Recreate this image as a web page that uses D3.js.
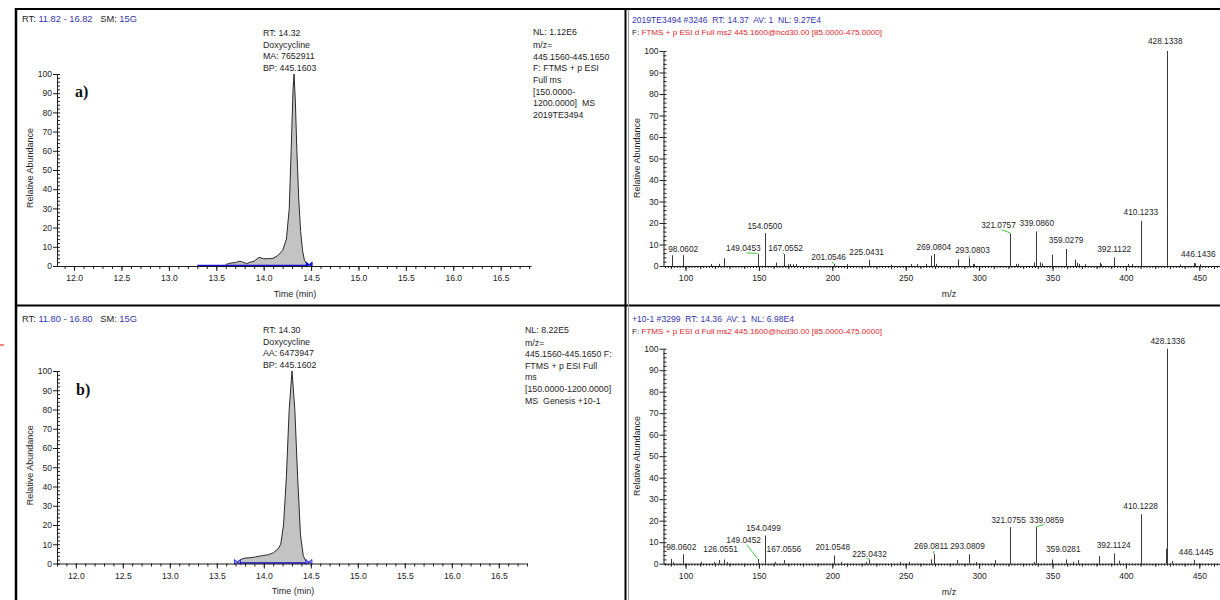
<!DOCTYPE html>
<html><head><meta charset="utf-8">
<script src="https://cdn.jsdelivr.net/npm/d3@7/dist/d3.min.js"></script>
<style>
body{margin:0;background:#fff;}
svg{display:block;font-family:"Liberation Sans",Arial,sans-serif;}
</style></head><body>
<svg id="c" width="1220" height="600"></svg>
<script>
// ---------------- DATA ----------------
// Chromatogram a)
const chromA_time  = [13.60,13.65,13.70,13.75,13.78,13.82,13.86,13.90,13.95,14.00,14.05,14.10,14.15,14.20,14.24,14.27,14.29,14.31,14.32,14.335,14.35,14.37,14.39,14.41,14.43,14.46,14.48];
const chromA_abund = [0.8, 1.5, 1.8, 2.5, 2.0, 1.2, 2.0, 2.5, 4.5, 3.8, 3.8, 4.0, 5.5, 8.0, 14, 30, 60, 92, 100, 85, 60, 35, 18, 8, 3, 1, 0];
// Chromatogram b)
const chromB_time  = [13.72,13.76,13.80,13.85,13.90,13.95,14.00,14.05,14.10,14.15,14.18,14.21,14.24,14.27,14.30,14.33,14.36,14.39,14.42,14.45,14.48];
const chromB_abund = [0.8, 2.2, 2.8, 3.0, 3.3, 3.8, 4.2, 4.6, 5.5, 7.5, 10, 20, 45, 80, 100, 80, 45, 15, 4, 1, 0];

// Spectrum (top, 2019TE3494)
const specA_mz  = [91.05,98.06,117.5,122.5,126.1,149.05,154.05,161.8,167.06,169.5,171,173,175,201.05,210,225.04,239.7,253.3,258,263.8,267.4,269.08,270.8,285.4,293.08,295.5,296.5,321.08,325.4,326.6,337.7,339.09,341.6,343,349.9,359.03,365.5,366.5,367.8,371.8,382.2,383,392.11,401.6,404.2,410.12,428.13,437,446.14,447,450.5];
const specA_int = [5.0,5.0,0.9,1.0,3.6,5.7,15.3,1.6,5.5,0.8,1.0,0.8,0.9,1.0,0.9,2.9,0.6,0.9,0.9,1.0,4.8,5.6,1.0,3.1,3.8,0.9,0.9,15.2,1.0,1.0,1.7,16.1,1.7,1.2,5.2,7.9,3.0,1.5,1.0,0.8,1.5,0.8,4.0,0.9,0.9,21,100,0.7,1.4,1.2,0.8];
const specA_labelText  = ['98.0602','149.0453','154.0500','167.0552','201.0546','225.0431','269.0804','293.0803','321.0757','339.0860','359.0279','392.1122','410.1233','428.1338','446.1436'];
const specA_labelMz    = [98.4,139.4,154.0,168.2,197.5,223.4,269.2,295.5,313.2,339.3,359.3,392.0,410.2,426.8,449.3];
const specA_labelLevel = [6.7,7.0,17.1,7.0,2.8,5.0,7.4,5.9,17.8,18.7,10.6,6.4,23.7,103.3,4.3];
const specA_leader     = [0,1,0,1,1,0,0,1,1,0,0,0,0,0,0];

// Spectrum (bottom, +10-1)
const specB_mz  = [89.8,91.6,98.06,110.5,119.6,122.5,126.06,128,149.05,154.05,161,167.06,201.05,206,223,225.04,246,252.5,267.4,269.08,285,293.08,297.7,311,321.08,337.5,339.09,349.8,359.03,363.7,367.6,382,392.11,395.6,410.12,427.6,428.13,431.7,446.14];
const specB_int = [2.2,0.8,4.4,0.8,0.8,1.7,2.0,0.8,2.2,13.1,0.8,1.7,3.9,0.8,0.8,2.0,0.8,0.8,2.0,4.4,1.7,4.4,0.8,1.7,17,0.8,17,2.0,2.0,0.9,1.7,3.6,4.8,1.4,23,7,100,1.2,1.7];
const specB_labelText  = ['98.0602','126.0551','149.0452','154.0499','167.0556','201.0548','225.0432','269.0811','293.0809','321.0755','339.0859','359.0281','392.1124','410.1228','428.1336','446.1445'];
const specB_labelMz    = [97.1,123.9,139.6,153.1,167.0,200.3,225.3,267.3,292.1,320.0,346.0,357.3,391.7,410.0,428.5,447.8];
const specB_labelLevel = [6.4,5.6,9.8,15.2,5.6,6.4,3.3,6.8,6.8,19.1,19.1,5.6,7.2,25.3,102.3,3.9];
const specB_leader     = [0,0,1,0,0,0,1,1,0,0,1,0,0,0,0,0];

// Tick labels
const yTicks = [0,10,20,30,40,50,60,70,80,90,100];
const chromTicks = [12.0,12.5,13.0,13.5,14.0,14.5,15.0,15.5,16.0,16.5];
const specTicks = [100,150,200,250,300,350,400,450];

// Texts
const chromA_header = [['RT: ','k'],['11.82 - 16.82','b'],['   SM: ','k'],['15G','b']];
const chromB_header = [['RT: ','k'],['11.80 - 16.80','b'],['   SM: ','k'],['15G','b']];
const chromA_note = ['RT: 14.32','Doxycycline','MA: 7652911','BP: 445.1603'];
const chromB_note = ['RT: 14.30','Doxycycline','AA: 6473947','BP: 445.1602'];
const chromA_info = ['NL: 1.12E6','m/z=','445.1560-445.1650','F: FTMS + p ESI','Full ms','[150.0000-','1200.0000]  MS','2019TE3494'];
const chromB_info = ['NL: 8.22E5','m/z=','445.1560-445.1650 F:','FTMS + p ESI Full','ms','[150.0000-1200.0000]','MS  Genesis +10-1'];
const specA_header = '2019TE3494 #3246  RT: 14.37  AV: 1  NL: 9.27E4';
const specB_header = '+10-1 #3299  RT: 14.36  AV: 1  NL: 6.98E4';
const spec_filter = 'FTMS + p ESI d Full ms2 445.1600@hcd30.00 [85.0000-475.0000]';

// ---------------- DRAW ----------------
const svg = d3.select('#c');
const INK = '#1e1e1e', BLUE = '#3434b0', RED = '#e2262e', GREEN = '#3cc83c';
const FS = 8.6;

function styleAxis(sel){
  sel.attr('font-family', null).attr('font-size', null);
  sel.selectAll('text').attr('font-size', FS).attr('fill', INK);
  sel.selectAll('line').attr('stroke', INK);
  sel.select('.domain').attr('stroke', INK);
}

function yAxis(y, xPos, minorStep){
  const g = svg.append('g');
  const maj = g.append('g').attr('transform', `translate(${xPos},0)`)
    .call(d3.axisLeft(y).tickValues(yTicks).tickSize(4).tickSizeOuter(0).tickPadding(1).tickFormat(d3.format('d')));
  styleAxis(maj);
  const mn = g.append('g').attr('transform', `translate(${xPos},0)`)
    .call(d3.axisRight(y).tickValues(d3.range(0, 100.1, minorStep)).tickSize(3).tickFormat(''));
  mn.select('.domain').remove();
  styleAxis(mn);
}

function yTitle(x, cy){
  svg.append('text').attr('transform', `translate(${x},${cy}) rotate(-90)`)
    .attr('text-anchor', 'middle').attr('font-size', 9).attr('fill', INK).text('Relative Abundance');
}

function drawChrom(cfg, times, abund, header, note, info){
  const x = d3.scaleLinear().domain(cfg.xdom).range(cfg.xr);
  const y = d3.scaleLinear().domain([0, 100]).range(cfg.yr);
  // header
  const h = svg.append('text').attr('x', 22).attr('y', cfg.headY).attr('font-size', 9.3).attr('xml:space','preserve');
  header.forEach(p => h.append('tspan').attr('fill', p[1] === 'b' ? BLUE : INK).text(p[0]));
  // peak area
  const area = d3.area().x((d, i) => x(times[i])).y0(y(0)).y1((d, i) => y(abund[i]));
  const line = d3.line().x((d, i) => x(times[i])).y((d, i) => y(abund[i]));
  svg.append('path').datum(times).attr('d', area).attr('fill', '#c3c3c3');
  svg.append('path').datum(times).attr('d', line).attr('fill', 'none').attr('stroke', '#2a2a2a').attr('stroke-width', 1);
  // integration baseline
  svg.append('line').attr('x1', x(cfg.base[0])).attr('x2', x(cfg.base[1]))
    .attr('y1', y(0) - 0.5).attr('y2', y(0) - 0.5).attr('stroke', '#1010d0').attr('stroke-width', 1.5);
  cfg.marks.forEach(t => {
    svg.append('path')
      .attr('d', `M${x(t) - 3},${y(0) - 4}L${x(t) + 3},${y(0) + 1}L${x(t) + 3},${y(0) - 4}L${x(t) - 3},${y(0) + 1}Z`)
      .attr('fill', cfg.markFill).attr('stroke', '#1010d0').attr('stroke-width', 0.8);
  });
  // axes
  const xa = svg.append('g').attr('transform', `translate(0,${y(0)})`)
    .call(d3.axisBottom(x).tickValues(chromTicks).tickSize(5).tickSizeOuter(0).tickPadding(4).tickFormat(d3.format('.1f')));
  styleAxis(xa);
  const minor = d3.range(Math.ceil(cfg.xdom[0] * 10), Math.floor(cfg.xdom[1] * 10) + 1).map(v => v / 10);
  const xm = svg.append('g').attr('transform', `translate(0,${y(0)})`)
    .call(d3.axisBottom(x).tickValues(minor).tickSize(3).tickSizeOuter(0).tickFormat(''));
  xm.select('.domain').remove();
  styleAxis(xm);
  yAxis(y, cfg.xr[0], 2);
  yTitle(33, (cfg.yr[0] + cfg.yr[1]) / 2 - 2);
  svg.append('text').attr('x', (cfg.xr[0] + cfg.xr[1]) / 2 + 1).attr('y', cfg.titleY).attr('text-anchor', 'middle')
    .attr('font-size', 9).attr('fill', INK).text('Time (min)');
  // annotations
  note.forEach((t, i) => svg.append('text').attr('x', cfg.noteX).attr('y', cfg.noteY + i * 11.6)
    .attr('font-size', FS + 0.2).attr('fill', INK).text(t));
  info.forEach((t, i) => svg.append('text').attr('x', cfg.infoX).attr('y', cfg.infoY + i * 11.6 + (i > 0 ? 1.5 : 0))
    .attr('font-size', FS + 0.2).attr('fill', INK).attr('xml:space','preserve').text(t));
  svg.append('text').attr('x', cfg.tagX).attr('y', cfg.tagY)
    .attr('font-family', '"Liberation Serif","Times New Roman",serif').attr('font-weight', 'bold')
    .attr('font-size', 16).attr('fill', '#111').text(cfg.tag);
}

function drawSpec(cfg, mz, inten, lText, lMz, lLevel, lLeader, header){
  const x = d3.scaleLinear().domain([85, 475]).range(cfg.xr);
  const y = d3.scaleLinear().domain([0, 100]).range(cfg.yr);
  svg.append('text').attr('x', 632).attr('y', cfg.headY).attr('font-size', FS).attr('fill', BLUE)
    .attr('xml:space','preserve').text(header);
  const f = svg.append('text').attr('x', 632).attr('y', cfg.headY + 12.5).attr('font-size', 8.1).attr('xml:space','preserve');
  f.append('tspan').attr('fill', INK).text('F: ');
  f.append('tspan').attr('fill', RED).text(spec_filter);
  // sticks
  svg.append('g').selectAll('line').data(mz).join('line')
    .attr('x1', d => Math.round(x(d)) + 0.5).attr('x2', d => Math.round(x(d)) + 0.5)
    .attr('y1', y(0)).attr('y2', (d, i) => y(inten[i]))
    .attr('stroke', '#3a3a3a').attr('stroke-width', 1);
  // leaders
  lText.forEach((t, i) => {
    if (!lLeader[i]) return;
    const pm = +t;
    const j = d3.minIndex(mz, m => Math.abs(m - pm));
    const lx = x(lMz[i]) + (pm > lMz[i] ? 3 : -3);
    svg.append('line').attr('x1', lx).attr('y1', y(lLevel[i]) + 2)
      .attr('x2', x(mz[j])).attr('y2', y(inten[j]) - 0.5)
      .attr('stroke', GREEN).attr('stroke-width', 1);
  });
  // labels
  svg.append('g').selectAll('text').data(lText).join('text')
    .attr('x', (d, i) => x(lMz[i])).attr('y', (d, i) => y(lLevel[i]))
    .attr('text-anchor', 'middle').attr('font-size', 8.3).attr('fill', INK).text(d => d);
  // axes
  const xa = svg.append('g').attr('transform', `translate(0,${y(0)})`)
    .call(d3.axisBottom(x).tickValues(specTicks).tickSize(5).tickSizeOuter(0).tickPadding(4).tickFormat(d3.format('d')));
  styleAxis(xa);
  const xm = svg.append('g').attr('transform', `translate(0,${y(0)})`)
    .call(d3.axisBottom(x).tickValues(d3.range(86, 475, 2)).tickSize(2).tickSizeOuter(0).tickFormat(''));
  xm.select('.domain').remove();
  styleAxis(xm);
  const xm2 = svg.append('g').attr('transform', `translate(0,${y(0)})`)
    .call(d3.axisBottom(x).tickValues(d3.range(90, 475, 10)).tickSize(3).tickSizeOuter(0).tickFormat(''));
  xm2.select('.domain').remove();
  styleAxis(xm2);
  yAxis(y, cfg.xr[0], 2);
  yTitle(640, cfg.titleCY);
  svg.append('text').attr('x', 949).attr('y', cfg.mzY).attr('text-anchor', 'middle')
    .attr('font-size', 9).attr('fill', INK).text('m/z');
}

drawChrom({xdom:[11.82,16.82], xr:[57,531], yr:[266,74], base:[13.3,14.48], marks:[14.48], markFill:'#1010d0',
  headY:21.5, titleY:296.5, noteX:263, noteY:36, infoX:533, infoY:35, tag:'a)', tagX:75, tagY:97},
  chromA_time, chromA_abund, chromA_header, chromA_note, chromA_info);
drawChrom({xdom:[11.80,16.80], xr:[57,527], yr:[563.5,371], base:[13.72,14.48], marks:[13.72,14.48], markFill:'#a0a0ff',
  headY:321.5, titleY:594, noteX:263, noteY:333, infoX:525, infoY:332.5, tag:'b)', tagX:76, tagY:395},
  chromB_time, chromB_abund, chromB_header, chromB_note, chromB_info);

drawSpec({xr:[663.5,1236], yr:[266,51], headY:22.5, titleCY:158, mzY:297},
  specA_mz, specA_int, specA_labelText, specA_labelMz, specA_labelLevel, specA_leader, specA_header);
drawSpec({xr:[663.5,1236], yr:[563.7,348.7], headY:321.5, titleCY:456, mzY:594.5},
  specB_mz, specB_int, specB_labelText, specB_labelMz, specB_labelLevel, specB_leader, specB_header);

// frame
const fr = svg.append('g').attr('stroke', '#000').attr('stroke-width', 2);
fr.append('line').attr('x1', 15).attr('x2', 1220).attr('y1', 9).attr('y2', 9);
fr.append('line').attr('x1', 16).attr('x2', 16).attr('y1', 8).attr('y2', 600).attr('stroke-width', 2.5);
fr.append('line').attr('x1', 625.5).attr('x2', 625.5).attr('y1', 8).attr('y2', 600);
fr.append('line').attr('x1', 15).attr('x2', 1220).attr('y1', 305.5).attr('y2', 305.5);
svg.append('line').attr('x1', 628.5).attr('x2', 628.5).attr('y1', 10).attr('y2', 600).attr('stroke', '#999').attr('stroke-width', 1);
svg.append('line').attr('x1', 0).attr('x2', 4).attr('y1', 345).attr('y2', 345).attr('stroke', '#e00').attr('stroke-width', 1);
</script>
</body></html>
